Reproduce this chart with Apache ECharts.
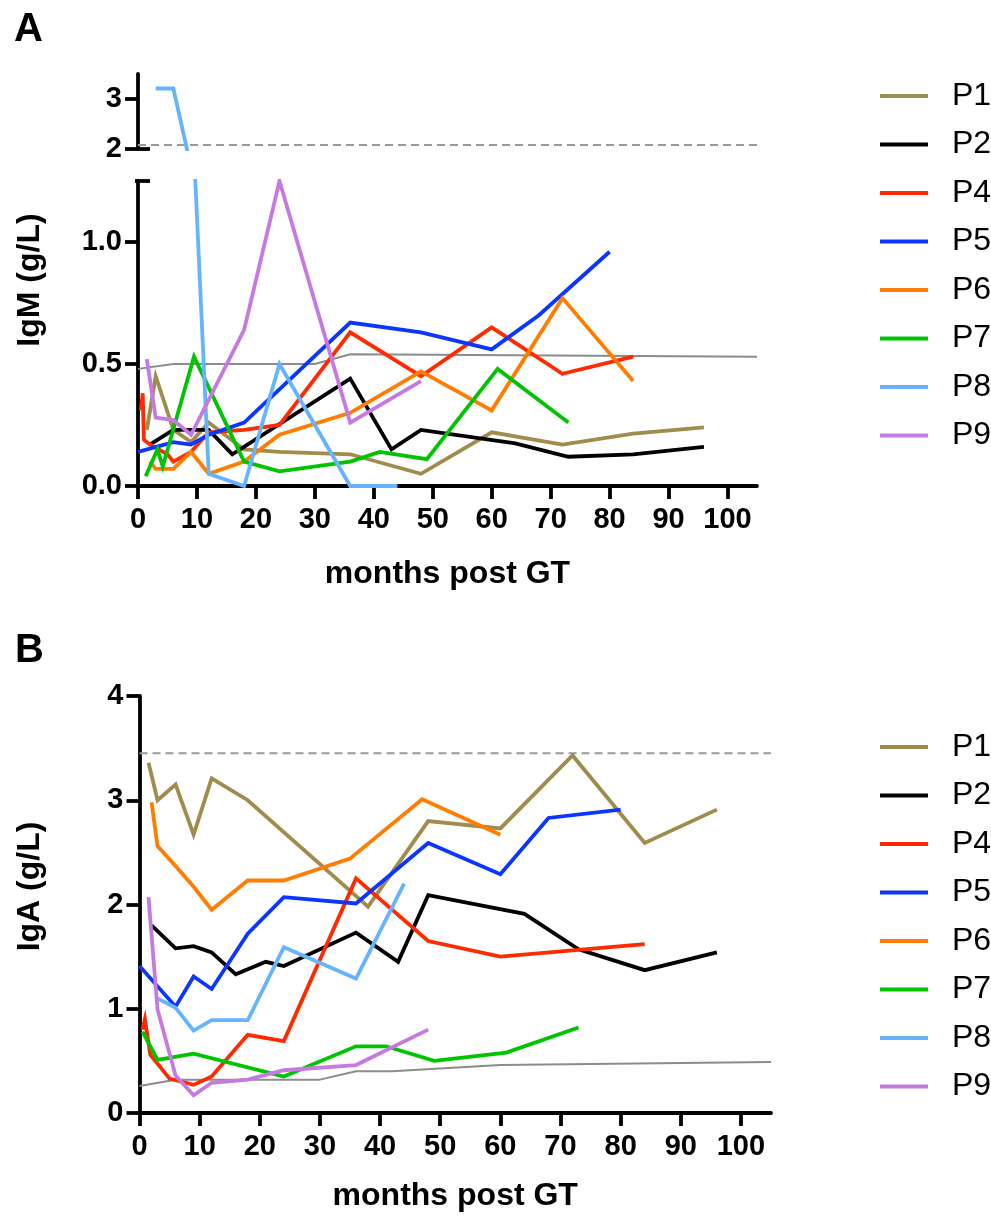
<!DOCTYPE html>
<html>
<head>
<meta charset="utf-8">
<script src="https://cdn.jsdelivr.net/npm/echarts@6/dist/echarts.min.js"></script>
<style>
html,body{margin:0;padding:0;background:#fff;}
#chart{width:991px;height:1220px;}
</style>
</head>
<body>
<div id="chart"></div>
<script>
// ---------- DATA ----------
const patients = ['P1','P2','P4','P5','P6','P7','P8','P9'];
const xTicks = [0,10,20,30,40,50,60,70,80,90,100];
const igmUpperTicks = [2,3];
const igmLowerTicks = [0,0.5,1.0];
const igaTicks = [0,1,2,3,4];

// IgM (g/L), panel A
const P1_igm_x = [1.5,3,6,9,12,18,24,36,48,60,72,84,96];
const P1_igm_y = [0.23,0.45,0.23,0.18,0.26,0.15,0.14,0.13,0.05,0.22,0.17,0.215,0.24];
const P2_igm_x = [2,6,12,16,36,43,48,64,73,84,96];
const P2_igm_y = [0.17,0.23,0.23,0.13,0.44,0.15,0.23,0.175,0.12,0.13,0.16];
const P4_igm_x = [0.5,0.8,1,2,5,6,9,12,18,24,36,48,60,72,84];
const P4_igm_y = [0.31,0.38,0.19,0.17,0.13,0.10,0.14,0.22,0.23,0.25,0.63,0.45,0.65,0.46,0.53];
const P5_igm_x = [0,6,9,12,18,36,48,60,68,80];
const P5_igm_y = [0.14,0.18,0.17,0.21,0.26,0.67,0.63,0.56,0.70,0.96];
const P6_igm_x = [2,3,6,9,12,18,24,36,48,60,72,84];
const P6_igm_y = [0.10,0.07,0.07,0.14,0.05,0.10,0.21,0.30,0.47,0.31,0.77,0.43];
const P7_igm_x = [1.3,3.3,4.2,9.5,18,24,36,41,49,61,73];
const P7_igm_y = [0.04,0.15,0.08,0.53,0.10,0.06,0.10,0.14,0.11,0.48,0.26];
const P8_igm_x = [3,6,12,18,24,36,44];
const P8_igm_y = [3.21,3.21,0.05,0.0,0.50,0.0,0.0];
const P9_igm_x = [1.5,3,6,9,18,24,36,48];
const P9_igm_y = [0.52,0.28,0.27,0.21,0.64,1.25,0.26,0.43];
const igmRef_x = [0,6,30,36,105];
const igmRef_y = [0.48,0.50,0.50,0.54,0.53];
const igmUpperLimit = 2.08;

// IgA (g/L), panel B
const P1_iga_x = [1.5,3,6,9,12,18,38,48,60,72,84,96];
const P1_iga_y = [3.36,3.0,3.15,2.67,3.21,3.0,1.98,2.80,2.73,3.43,2.59,2.91];
const P2_iga_x = [2,6,9,12,16,21,24,36,43,48,64,73,84,96];
const P2_iga_y = [1.80,1.58,1.60,1.54,1.33,1.45,1.41,1.73,1.45,2.09,1.91,1.57,1.37,1.54];
const P4_iga_x = [0.5,0.9,1.8,5,9,12,18,24,36,48,60,84];
const P4_iga_y = [0.80,0.90,0.56,0.33,0.27,0.35,0.75,0.69,2.25,1.65,1.50,1.62];
const P5_iga_x = [0,6,9,12,18,24,36,48,60,68,80];
const P5_iga_y = [1.41,1.02,1.31,1.19,1.72,2.07,2.01,2.59,2.29,2.83,2.91];
const P6_iga_x = [2,3,6,9,12,18,24,35,47,60];
const P6_iga_y = [2.98,2.56,2.37,2.17,1.95,2.23,2.23,2.44,3.01,2.67];
const P7_iga_x = [0.5,3,9,24,36,41,49,61,73];
const P7_iga_y = [0.78,0.51,0.57,0.35,0.64,0.64,0.50,0.58,0.82];
const P8_iga_x = [3,6,9,12,18,24,36,44];
const P8_iga_y = [1.10,1.01,0.79,0.89,0.89,1.59,1.29,2.20];
const P9_iga_x = [1.5,3,6,9,12,18,24,36,48];
const P9_iga_y = [2.07,0.99,0.36,0.17,0.29,0.32,0.41,0.46,0.80];
const igaRef_x = [0,6,30,36,42,60,105];
const igaRef_y = [0.26,0.32,0.32,0.40,0.40,0.46,0.49];
const igaUpperLimit = 3.45;

// ---------- STYLE ----------
const colors = {P1:'#A08C4C',P2:'#000000',P4:'#FF2A00',P5:'#0A36FF',P6:'#FF7D00',P7:'#00C400',P8:'#66B3FF',P9:'#C679E0'};
const FONT = "'Liberation Sans', Arial, Helvetica, sans-serif";
const LW = 3.8;

const igm = {P1:[P1_igm_x,P1_igm_y],P2:[P2_igm_x,P2_igm_y],P4:[P4_igm_x,P4_igm_y],P5:[P5_igm_x,P5_igm_y],
             P6:[P6_igm_x,P6_igm_y],P7:[P7_igm_x,P7_igm_y],P8:[P8_igm_x,P8_igm_y],P9:[P9_igm_x,P9_igm_y]};
const iga = {P1:[P1_iga_x,P1_iga_y],P2:[P2_iga_x,P2_iga_y],P4:[P4_iga_x,P4_iga_y],P5:[P5_iga_x,P5_iga_y],
             P6:[P6_iga_x,P6_iga_y],P7:[P7_iga_x,P7_iga_y],P8:[P8_iga_x,P8_iga_y],P9:[P9_iga_x,P9_iga_y]};
const pairs = (xs, ys) => xs.map((x,i)=>[x, ys[i]]);

function axisCommon(){
  return {
    axisLine:{show:true,lineStyle:{color:'#000',width:LW}},
    axisTick:{show:true,length:13,lineStyle:{color:'#000',width:LW}},
    splitLine:{show:false},
    axisLabel:{color:'#000',fontFamily:FONT,fontWeight:'bold',fontSize:29,margin:16}
  };
}
function xAxisDef(gridIndex, show, nameGap){
  const c = axisCommon();
  return Object.assign(c, {
    type:'value', gridIndex, min:0, max:105, interval:10, show,
    name: show ? 'months post GT' : '', nameLocation:'middle', nameGap: nameGap||70,
    nameTextStyle:{color:'#000',fontFamily:FONT,fontWeight:'bold',fontSize:32},
    axisTick:Object.assign(c.axisTick,{customValues:xTicks}),
    axisLabel:Object.assign(c.axisLabel,{customValues:xTicks, margin:19})
  });
}
function yAxisDef(gridIndex, min, max, ticks, fmt){
  const c = axisCommon();
  return Object.assign(c, {
    type:'value', gridIndex, min, max,
    axisTick:Object.assign(c.axisTick,{customValues:ticks}),
    axisLabel:Object.assign(c.axisLabel,{customValues:ticks, formatter:fmt})
  });
}

const series = [];
// reference lines
series.push({type:'line',xAxisIndex:1,yAxisIndex:1,data:pairs(igmRef_x,igmRef_y),symbol:'none',silent:true,
  lineStyle:{color:'#8C8C8C',width:2},z:1});
series.push({type:'line',xAxisIndex:0,yAxisIndex:0,data:[[0,igmUpperLimit],[105,igmUpperLimit]],symbol:'none',silent:true,
  lineStyle:{color:'#9A9A9A',width:2,type:[8,5]},z:1});
series.push({type:'line',xAxisIndex:2,yAxisIndex:2,data:pairs(igaRef_x,igaRef_y),symbol:'none',silent:true,
  lineStyle:{color:'#8C8C8C',width:2},z:1});
series.push({type:'line',xAxisIndex:2,yAxisIndex:2,data:[[0,igaUpperLimit],[105,igaUpperLimit]],symbol:'none',silent:true,
  lineStyle:{color:'#9A9A9A',width:2,type:[8,5]},z:1});

patients.forEach(p=>{
  const d = pairs(igm[p][0], igm[p][1]);
  [0,1].forEach(g=>{
    series.push({name:p,type:'line',xAxisIndex:g,yAxisIndex:g,data:d,symbol:'none',clip:true,
      lineStyle:{color:colors[p],width:LW,join:'miter'},itemStyle:{color:colors[p]},z:2});
  });
  series.push({name:p,type:'line',xAxisIndex:2,yAxisIndex:2,data:pairs(iga[p][0],iga[p][1]),symbol:'none',clip:true,
    lineStyle:{color:colors[p],width:LW,join:'miter'},itemStyle:{color:colors[p]},z:2});
});

function legendDef(top){
  return {
    orient:'vertical', left:875, top, icon:'rect', itemWidth:48, itemHeight:4, itemGap:16.5,
    data:patients, selectedMode:false,
    textStyle:{color:'#000',fontFamily:FONT,fontSize:32,lineHeight:32,padding:[0,0,0,19]}
  };
}

const chart = echarts.init(document.getElementById('chart'), null, {renderer:'canvas'});
chart.setOption({
  animation:false,
  backgroundColor:'#fff',
  grid:[
    {left:138, top:74, width:619, height:75, containLabel:false},
    {left:138, top:181, width:619, height:305, containLabel:false},
    {left:139.5, top:696, width:631.5, height:417, containLabel:false}
  ],
  xAxis:[ xAxisDef(0,false), xAxisDef(1,true,72), xAxisDef(2,true,67) ],
  yAxis:[
    yAxisDef(0,2,3.5,igmUpperTicks,v=>String(v)),
    yAxisDef(1,0,1.25,igmLowerTicks,v=>v.toFixed(1)),
    Object.assign(yAxisDef(2,0,4,igaTicks,v=>String(v)),{interval:1})
  ],
  legend:[legendDef(75), legendDef(726)],
  series
});

// decorations: panel letters, axis titles, broken-axis caps
const pUpBottom = chart.convertToPixel({gridIndex:0},[0,2]);
const pLowTop = chart.convertToPixel({gridIndex:1},[0,1.25]);
const pLowBottom = chart.convertToPixel({gridIndex:1},[0,0]);
const pUpTop = chart.convertToPixel({gridIndex:0},[0,3.5]);
const pB0 = chart.convertToPixel({gridIndex:2},[0,0]);
const pB4 = chart.convertToPixel({gridIndex:2},[0,4]);
const capStyle = {stroke:'#000',lineWidth:LW};
chart.setOption({
  graphic:[
    {type:'text',left:14,top:10,style:{text:'A',font:"bold 40px "+FONT,fill:'#000'}},
    {type:'text',left:15,top:631,style:{text:'B',font:"bold 40px "+FONT,fill:'#000'}},
    {type:'text',x:30,y:(pUpTop[1]+pLowBottom[1])/2,rotation:Math.PI/2,
      style:{text:'IgM (g/L)',font:"bold 32px "+FONT,fill:'#000',align:'center',verticalAlign:'middle'}},
    {type:'text',x:30,y:(pB4[1]+pB0[1])/2 - 18,rotation:Math.PI/2,
      style:{text:'IgA (g/L)',font:"bold 32px "+FONT,fill:'#000',align:'center',verticalAlign:'middle'}},
    {type:'line',shape:{x1:pUpBottom[0],y1:pUpBottom[1],x2:pUpBottom[0]+12,y2:pUpBottom[1]},style:capStyle},
    {type:'line',shape:{x1:pLowTop[0]-3,y1:pLowTop[1],x2:pLowTop[0]+12,y2:pLowTop[1]},style:capStyle}
  ]
});
</script>
</body>
</html>
